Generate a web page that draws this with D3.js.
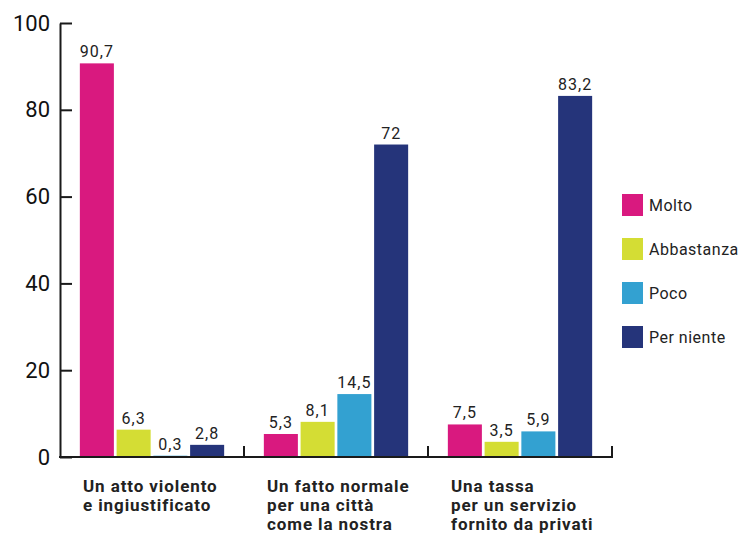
<!DOCTYPE html>
<html><head><meta charset="utf-8">
<script src="https://cdn.jsdelivr.net/npm/d3@7"></script>
<style>body{margin:0;background:#fff}svg{display:block}</style>
</head><body><svg id="c" width="749" height="533"></svg>
<script>
const categories = [
  ["Un atto violento","e ingiustificato"],
  ["Un fatto normale","per una città","come la nostra"],
  ["Una tassa","per un servizio","fornito da privati"]
];
const seriesNames = ["Molto","Abbastanza","Poco","Per niente"];
const molto = [90.7, 5.3, 7.5];
const abbastanza = [6.3, 8.1, 3.5];
const poco = [0.3, 14.5, 5.9];
const perNiente = [2.8, 72, 83.2];
const colors = ["#d9197f","#d4dd34","#33a1d1","#25347a"];
const yTicks = [0,20,40,60,80,100];

const values = [molto, abbastanza, poco, perNiente];
const svg = d3.select("#c");
const axisColor = "#1a1a1a";

const x0 = d3.scaleBand().domain(d3.range(categories.length)).range([60,612]).padding(0);
const x1 = d3.scaleBand().domain(d3.range(seriesNames.length)).range([0,x0.bandwidth()])
  .paddingInner(0.074).paddingOuter(0.54);
const y = d3.scaleLinear().domain([0,100]).range([457,23]);

// bars
const groups = svg.append("g").selectAll("g").data(categories).join("g")
  .attr("transform",(d,i)=>`translate(${x0(i)},0)`);
groups.each(function(d,ci){
  const g = d3.select(this);
  const data = seriesNames.map((s,si)=>({si, v: values[si][ci]}));
  g.selectAll("rect").data(data).join("rect")
    .attr("x",e=>x1(e.si)).attr("width",x1.bandwidth())
    .attr("y",e=>y(e.v)).attr("height",e=>Math.max(1.5,y(0)-y(e.v)))
    .attr("fill",e=>colors[e.si]);
  g.selectAll("text.val").data(data).join("text").attr("class","val")
    .attr("x",e=>x1(e.si)+x1.bandwidth()/2).attr("y",e=>y(e.v)-6)
    .attr("text-anchor","middle").attr("font-family","Roboto, sans-serif")
    .attr("font-size",16).attr("letter-spacing",1).attr("fill","#222")
    .text(e=>String(e.v).replace(".",","));
  const t = g.append("text").attr("x",23).attr("y",492)
    .attr("font-family","Roboto, sans-serif").attr("font-weight","bold")
    .attr("font-size",17).attr("letter-spacing",0.9).attr("fill","#222");
  d.forEach((line,li)=>t.append("tspan").attr("x",23).attr("dy",li?19:0).text(line));
});

// y axis
const yAxis = d3.axisLeft(y).tickValues(yTicks).tickSizeInner(-12).tickSizeOuter(0).tickPadding(10);
const ya = svg.append("g").attr("transform","translate(60,0)").call(yAxis);
ya.select(".domain").attr("stroke",axisColor).attr("stroke-width",2);
ya.selectAll(".tick line").attr("stroke",axisColor).attr("stroke-width",2);
ya.selectAll(".tick text").attr("font-family","Roboto, sans-serif").attr("font-size",22)
  .attr("fill","#111").attr("x",-10);

// baseline with group separators
const base = svg.append("g");
base.append("line").attr("x1",59).attr("x2",613).attr("y1",y(0)).attr("y2",y(0))
  .attr("stroke",axisColor).attr("stroke-width",2);
base.selectAll("line.sep").data(d3.range(1,categories.length+1)).join("line").attr("class","sep")
  .attr("x1",i=>i<categories.length?x0(i):x0.range()[1]).attr("x2",i=>i<categories.length?x0(i):x0.range()[1])
  .attr("y1",y(0)).attr("y2",y(0)-11).attr("stroke",axisColor).attr("stroke-width",2);

// legend
const leg = svg.append("g").selectAll("g").data(seriesNames).join("g")
  .attr("transform",(d,i)=>`translate(622,${194+i*44})`);
leg.append("rect").attr("width",21).attr("height",22).attr("fill",(d,i)=>colors[i]);
leg.append("text").attr("x",27).attr("y",17).attr("font-family","Roboto, sans-serif")
  .attr("font-size",16).attr("letter-spacing",0.5).attr("fill","#222").text(d=>d);
</script></body></html>
